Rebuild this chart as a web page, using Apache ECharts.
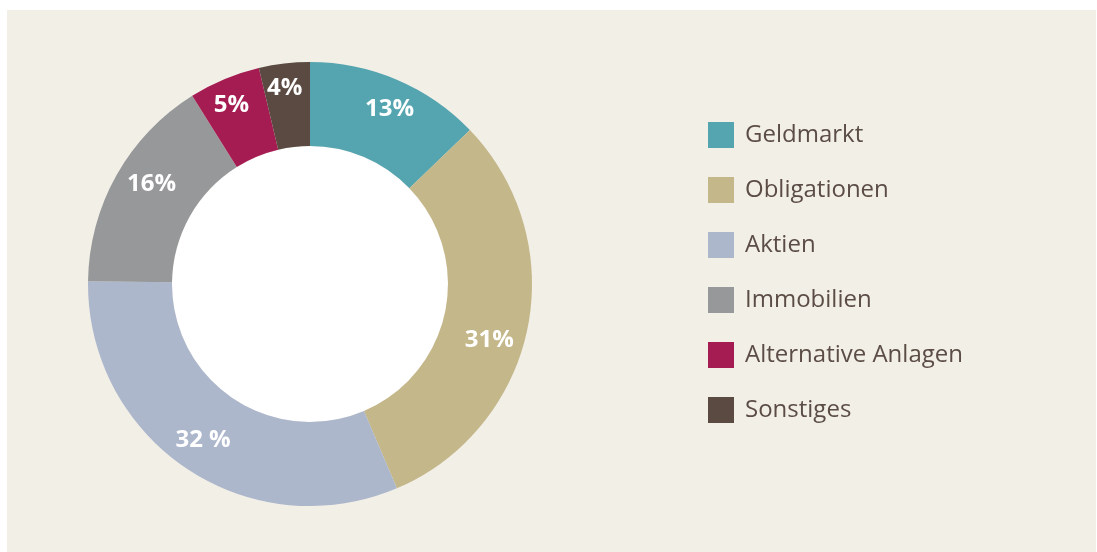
<!DOCTYPE html>
<html>
<head>
<meta charset="utf-8">
<script src="https://cdn.jsdelivr.net/npm/echarts@6/dist/echarts.min.js"></script>
<style>
  html, body { margin: 0; padding: 0; background: #ffffff; }
  #chart { position: absolute; left: 7px; top: 10px; width: 1089px; height: 542px; }
</style>
</head>
<body>
<div id="chart"></div>
<script>
// Anteile und die gedruckten Beschriftungen
var categories = ["Geldmarkt", "Obligationen", "Aktien", "Immobilien", "Alternative Anlagen", "Sonstiges"];
var values = [12.8, 30.8, 31.6, 15.9, 5.2, 3.7];
var labels = ["13%", "31%", "32 %", "16%", "5%", "4%"];
var colors = ["#55a5b0", "#c4b78a", "#adb7cc", "#97989a", "#a51c52", "#5a4a42"];
// Beschriftungen sind im Original von Hand verschoben
var labelOffsets = [[8, -6], [0, 20], [-5, 4], [1, -10], [-8, -10], [-4, -14]];

var myChart = echarts.init(document.getElementById("chart"));

var data = categories.map(function (name, i) {
  return {
    name: name,
    value: values[i],
    itemStyle: { color: colors[i] },
    label: { offset: labelOffsets[i] },
  };
});

myChart.setOption({
  backgroundColor: "#f2efe7",
  animation: false,
  legend: {
    orient: "vertical",
    left: 696,
    top: 107,
    itemWidth: 26,
    itemHeight: 26,
    itemGap: 29,
    icon: "rect",
    textStyle: {
      fontFamily: "Open Sans",
      fontSize: 24,
      color: "#5b4d45",
      padding: [0, 0, 0, 6],
    },
    data: categories,
  },
  series: [
    {
      // weisses Loch in der Mitte
      type: "pie",
      center: [303, 274],
      radius: [0, 138],
      silent: true,
      label: { show: false },
      labelLine: { show: false },
      itemStyle: { color: "#ffffff" },
      data: [{ name: "", value: 1 }],
    },
    {
      type: "pie",
      center: [303, 274],
      radius: [138, 222],
      startAngle: 90,
      clockwise: true,
      avoidLabelOverlap: false,
      label: {
        show: true,
        position: "inside",
        color: "#ffffff",
        fontFamily: "Open Sans",
        fontWeight: "bold",
        fontSize: 24,
        formatter: function (p) {
          return labels[p.dataIndex];
        },
      },
      labelLine: { show: false },
      data: data,
    },
  ],
});
</script>
</body>
</html>
